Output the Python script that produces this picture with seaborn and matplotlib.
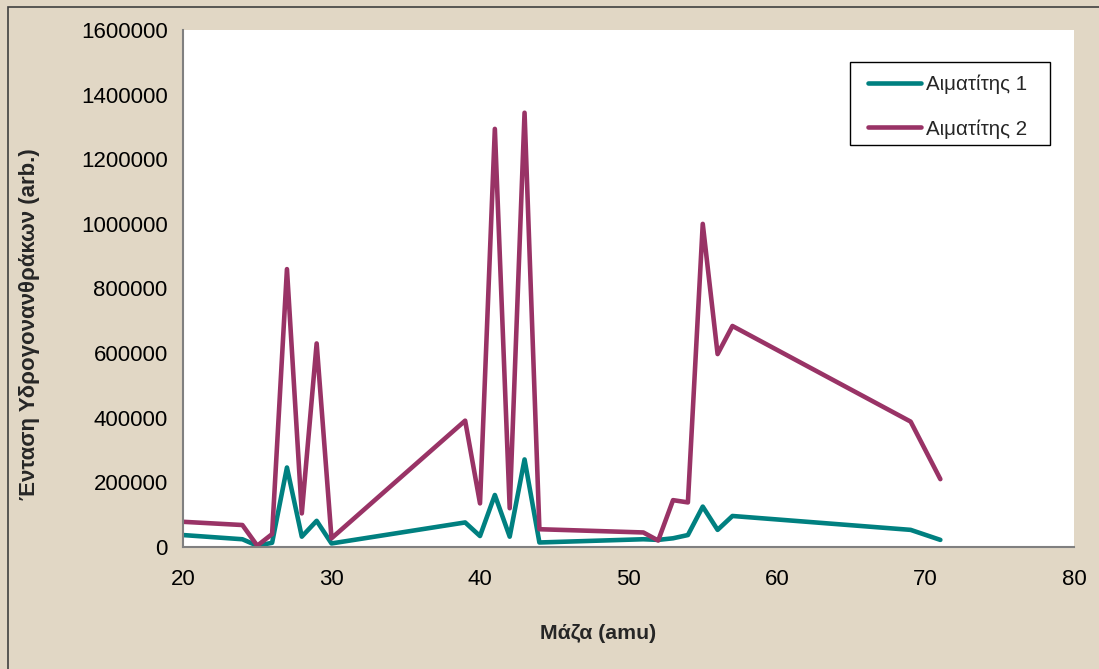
import matplotlib
matplotlib.use("Agg")
import matplotlib.pyplot as plt
import matplotlib.patches as mpatches
import pandas as pd
import seaborn as sns

# mass values (amu)
mass = [20, 24, 25, 26, 27, 28, 29, 30, 39, 40, 41, 42, 43, 44,
        51, 52, 53, 54, 55, 56, 57, 69, 71]

# hydrocarbon intensity (arb.)
hematite_1 = [37000, 24000, 4000, 13000, 246000, 32000, 81000, 11000,
              76000, 34000, 161000, 32000, 271000, 14000,
              24000, 22000, 27000, 37000, 125000, 53000, 96000, 53000, 22000]
hematite_2 = [78000, 68000, 4000, 40000, 860000, 104000, 630000, 27000,
              391000, 135000, 1294000, 120000, 1344000, 55000,
              45000, 20000, 145000, 138000, 1000000, 597000, 684000, 388000, 210000]

labels = ["Αιματίτης 1", "Αιματίτης 2"]
colors = ["#008080", "#993366"]

df = pd.concat([
    pd.DataFrame({"mass": mass, "intensity": hematite_1, "series": labels[0]}),
    pd.DataFrame({"mass": mass, "intensity": hematite_2, "series": labels[1]}),
], ignore_index=True)

sns.set_theme(style="white")
plt.rcParams["font.family"] = ["Liberation Sans", "DejaVu Sans"]

bg = "#e1d7c5"
fig = plt.figure(figsize=(10.99, 6.69), dpi=100, facecolor=bg)
ax = fig.add_axes([183 / 1099, 1 - 547 / 669, (1074 - 183) / 1099, (547 - 30) / 669])
ax.set_facecolor("white")

# outer chart border (only left/top edges are visible in the crop)
fig.patches.append(mpatches.Rectangle((8 / 1099, -0.1), 1.2, 1 - 7 / 669 + 0.1,
                                      transform=fig.transFigure, fill=False,
                                      edgecolor="#404040", linewidth=1.2))

sns.lineplot(data=df, x="mass", y="intensity", hue="series",
             palette=dict(zip(labels, colors)), linewidth=3.3,
             ax=ax, sort=False, estimator=None)

ax.set_xlim(20, 80)
ax.set_ylim(0, 1600000)
ax.set_xticks(range(20, 81, 10))
ax.set_yticks(range(0, 1600001, 200000))
ax.set_yticklabels([str(v) for v in range(0, 1600001, 200000)])

for side in ["top", "right"]:
    ax.spines[side].set_visible(False)
for side in ["left", "bottom"]:
    ax.spines[side].set_color("#808080")
    ax.spines[side].set_linewidth(1.5)

ax.tick_params(axis="both", direction="out", length=6, width=1.2,
               color="#606060", labelsize=16, labelcolor="black", pad=5)
ax.tick_params(axis="x", pad=10)

ax.set_xlabel("Μάζα (amu)", fontsize=15.3, fontweight="bold")
ax.set_ylabel("Ένταση Υδρογονανθράκων (arb.)", fontsize=16, fontweight="bold")
ax.xaxis.set_label_coords((598 - 183) / 891, (547 - 624) / 517)
ax.yaxis.set_label_coords((40 - 183) / 891, (547 - 324) / 517)

# legend box drawn separately (Excel style: wide side padding)
ax.add_patch(mpatches.Rectangle(((850 - 183) / 891, (547 - 145) / 517),
                                200 / 891, 83 / 517, transform=ax.transAxes,
                                facecolor="white", edgecolor="black",
                                linewidth=1.0, zorder=4))
leg = ax.legend(loc="upper left", bbox_to_anchor=((868 - 183) / 891, 1 - 45 / 517),
                fontsize=14.8, frameon=False, handlelength=2.6,
                borderpad=0, labelspacing=1.2, handletextpad=0.2,
                borderaxespad=0)
leg.set_zorder(5)

fig.savefig("out.png", dpi=100, facecolor=bg)
